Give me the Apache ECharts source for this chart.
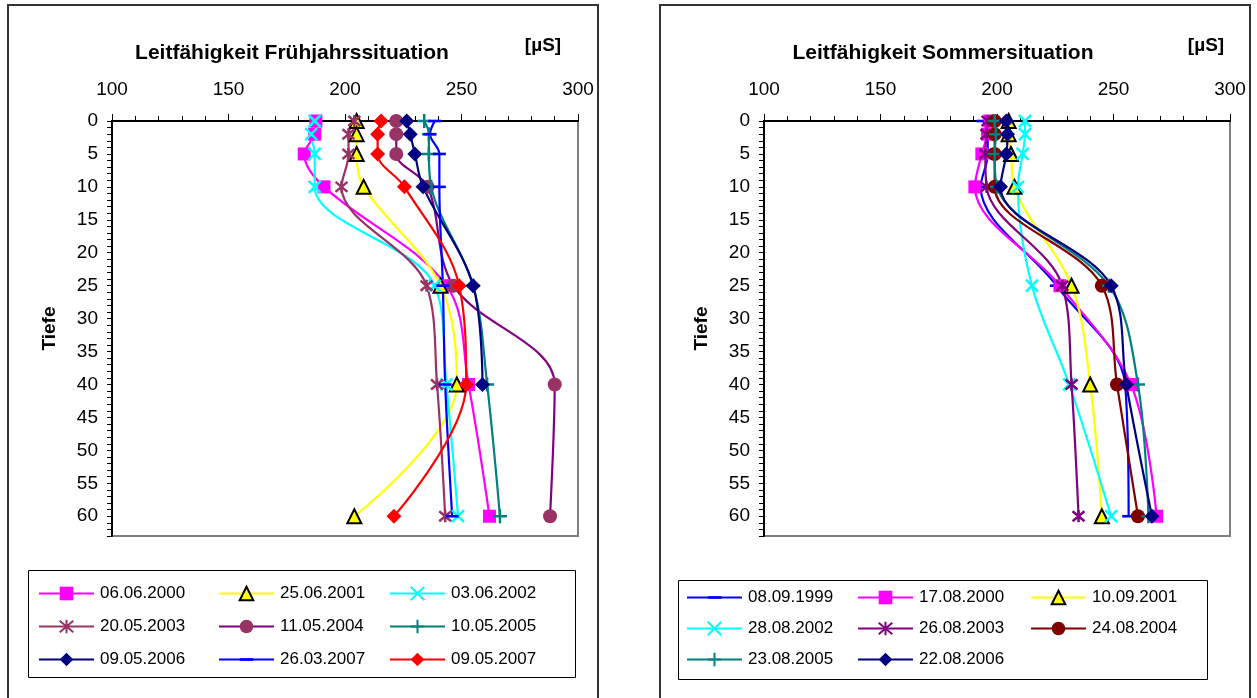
<!DOCTYPE html>
<html>
<head>
<meta charset="utf-8">
<script src="https://cdn.jsdelivr.net/npm/echarts@6/dist/echarts.min.js"></script>
<style>
html,body{margin:0;padding:0;background:#fff;}
#c{width:1257px;height:698px;}
</style>
</head>
<body>
<div id="c"></div>
<script>
// ---- data ----
const depths = [0, 2, 5, 10, 25, 40, 60];
const xTicks = [100, 150, 200, 250, 300];
const yTickLabels = [0, 5, 10, 15, 20, 25, 30, 35, 40, 45, 50, 55, 60];

// Frühjahr (left)
const springNames = ['06.06.2000','25.06.2001','03.06.2002','20.05.2003','11.05.2004','10.05.2005','09.05.2006','26.03.2007','09.05.2007'];
const sp2000 = [187.5, 187, 182.5, 191, 243.5, 253, 262];
const sp2001 = [205, 205, 205, 208, 241, 248, 204];
const sp2002 = [187, 185.5, 187, 187, 238.5, 243.5, 248.5];
const sp2003 = [204, 201.5, 201.5, 198.5, 235, 239.5, 243];
const sp2004 = [222, 222, 222, 235.5, 246.5, 290, 288];
const sp2005 = [234, 236, 236, 237, 255, 261, 266.5];
const sp2006 = [226.5, 228, 230, 233.5, 255, 259, null];
const sp2007a = [238.5, 236.5, 240.5, 240.5, 242, 243, 246];
const sp2007b = [215.5, 214, 214, 225.5, 249, 252, 221];

// Sommer (right)
const summerNames = ['08.09.1999','17.08.2000','10.09.2001','28.08.2002','26.08.2003','24.08.2004','23.08.2005','22.08.2006'];
const su1999 = [194, 196, 196, 193, 225.5, 255, 256.5];
const su2000 = [197, 196, 193.5, 190.5, 227, 257.5, 268.5];
const su2001 = [205, 205, 206, 207.5, 232, 240, 245];
const su2002 = [212, 212, 211, 209, 215, 231, 249];
const su2003 = [196, 195.5, 195, 195.5, 228, 232, 235];
const su2004 = [199, 199, 199, 199, 245, 251.5, 260.5];
const su2005 = [199, 199.5, 199, 200, 248, 260.5, 265];
const su2006 = [204, 204.5, 204, 201.5, 249, 255.5, 266.5];

// ---- helpers ----
const FONT = 'Liberation Sans, Arial, sans-serif';
const P_X = 'path://M0,0L10,10M10,0L0,10';
const P_AST = 'path://M0,0L10,10M10,0L0,10M5,-1L5,11';
const P_PLUS = 'path://M0,5L10,5M5,0L5,10';
const P_DASH = 'path://M0,0L0,0M0,4L10,4L10,6L0,6ZM10,10L10,10';

function pts(vals){
  const out = [];
  vals.forEach((v,i)=>{ if(v!==null && v!==undefined) out.push([v, depths[i]]); });
  return out;
}
const markers = {
  square: {symbol:'rect', symbolSize:13},
  tri: {symbol:'triangle', symbolSize:14},
  x: {symbol:P_X, symbolSize:12},
  ast: {symbol:P_AST, symbolSize:12},
  circle: {symbol:'circle', symbolSize:14},
  plus: {symbol:P_PLUS, symbolSize:14},
  diamond: {symbol:'diamond', symbolSize:15},
  dash: {symbol:P_DASH, symbolSize:13}
};
function ser(idx, name, vals, lineColor, mk, markColor, border){
  const m = markers[mk];
  const stroked = (mk==='x'||mk==='ast'||mk==='plus');
  return {
    type:'line', name, xAxisIndex:idx, yAxisIndex:idx,
    data: pts(vals), smooth:0.35, symbol:m.symbol, symbolSize:m.symbolSize,
    showAllSymbol:true, z:3,
    lineStyle:{color:lineColor, width:2.2},
    itemStyle:{color:markColor, borderColor: border || markColor, borderWidth: stroked?2.5:(border?2:0), opacity:1},
    emphasis:{disabled:true}, animation:false
  };
}
function xAx(idx){
  return {
    type:'value', gridIndex:idx, position:'top', min:100, max:300, interval:50,
    axisLine:{show:true, lineStyle:{color:'#000', width:2}},
    axisTick:{show:true, length:7, lineStyle:{color:'#000', width:1}},
    minorTick:{show:true, splitNumber:5, length:5, lineStyle:{color:'#000', width:1}},
    splitLine:{show:false},
    axisLabel:{fontFamily:FONT, fontSize:19, color:'#000', margin:22}
  };
}
function yAx(idx){
  return {
    type:'value', gridIndex:idx, inverse:true, min:0, max:63, interval:1,
    name:'Tiefe', nameLocation:'middle', nameGap:53, nameRotate:90,
    nameTextStyle:{fontFamily:FONT, fontSize:19, fontWeight:'bold', color:'#000'},
    axisLine:{show:true, lineStyle:{color:'#000', width:2}},
    axisTick:{show:true, length:5, lineStyle:{color:'#000', width:1}},
    splitLine:{show:false},
    axisLabel:{fontFamily:FONT, fontSize:19, color:'#000', margin:14,
      formatter:(v)=> yTickLabels.indexOf(v)>=0 ? String(v) : ''}
  };
}
function legendCol(names, left, top, gap){
  return {
    data:names, orient:'vertical', left, top, padding:0, itemGap:gap,
    itemWidth:55, itemHeight:17, selectedMode:false,
    textStyle:{fontFamily:FONT, fontSize:17, color:'#000', padding:[0,0,0,1]}
  };
}

const series = [
  ser(0, springNames[0], sp2000, '#FF00FF', 'square', '#FF00FF'),
  ser(0, springNames[1], sp2001, '#FFFF00', 'tri', '#FFFF00', '#000'),
  ser(0, springNames[2], sp2002, '#00FFFF', 'x', '#00FFFF'),
  ser(0, springNames[3], sp2003, '#993366', 'ast', '#993366'),
  ser(0, springNames[4], sp2004, '#800080', 'circle', '#993366'),
  ser(0, springNames[5], sp2005, '#008080', 'plus', '#008080'),
  ser(0, springNames[6], sp2006, '#000080', 'diamond', '#000080'),
  ser(0, springNames[7], sp2007a, '#0000FF', 'dash', '#0000FF'),
  ser(0, springNames[8], sp2007b, '#FF0000', 'diamond', '#FF0000'),
  ser(1, summerNames[0], su1999, '#0000FF', 'dash', '#0000FF'),
  ser(1, summerNames[1], su2000, '#FF00FF', 'square', '#FF00FF'),
  ser(1, summerNames[2], su2001, '#FFFF00', 'tri', '#FFFF00', '#000'),
  ser(1, summerNames[3], su2002, '#00FFFF', 'x', '#00FFFF'),
  ser(1, summerNames[4], su2003, '#800080', 'ast', '#800080'),
  ser(1, summerNames[5], su2004, '#800000', 'circle', '#800000'),
  ser(1, summerNames[6], su2005, '#008080', 'plus', '#008080'),
  ser(1, summerNames[7], su2006, '#000080', 'diamond', '#000080')
];

const chart = echarts.init(document.getElementById('c'), null, {renderer:'canvas'});
chart.setOption({
  backgroundColor:'#fff',
  animation:false,
  grid:[
    {left:112, top:121, width:466, height:415, show:true, borderColor:'#808080', borderWidth:2, backgroundColor:'#fff'},
    {left:764, top:121, width:466, height:415, show:true, borderColor:'#808080', borderWidth:2, backgroundColor:'#fff'}
  ],
  xAxis:[xAx(0), xAx(1)],
  yAxis:[yAx(0), yAx(1)],
  legend:[
    legendCol([springNames[0],springNames[3],springNames[6]], 38, 585, 16),
    legendCol([springNames[1],springNames[4],springNames[7]], 218, 585, 16),
    legendCol([springNames[2],springNames[5],springNames[8]], 389, 585, 16),
    legendCol([summerNames[0],summerNames[3],summerNames[6]], 686, 589, 14),
    legendCol([summerNames[1],summerNames[4],summerNames[7]], 857, 589, 14),
    legendCol([summerNames[2],summerNames[5]], 1030, 589, 14)
  ],
  graphic:[
    {type:'rect', shape:{x:8, y:5, width:590, height:700}, style:{fill:null, stroke:'#333', lineWidth:2}, z:-1},
    {type:'rect', shape:{x:660, y:5, width:590, height:700}, style:{fill:null, stroke:'#333', lineWidth:2}, z:-1},
    {type:'rect', shape:{x:28.5, y:570.5, width:547, height:107}, style:{fill:null, stroke:'#000', lineWidth:1}},
    {type:'rect', shape:{x:678.5, y:580.5, width:529, height:99}, style:{fill:null, stroke:'#000', lineWidth:1}},
    {type:'text', style:{x:292, y:53, text:'Leitfähigkeit Frühjahrssituation', align:'center', verticalAlign:'middle', font:'bold 21px '+FONT, fill:'#000'}},
    {type:'text', style:{x:543, y:46, text:'[µS]', align:'center', verticalAlign:'middle', font:'bold 19px '+FONT, fill:'#000'}},
    {type:'text', style:{x:943, y:53, text:'Leitfähigkeit Sommersituation', align:'center', verticalAlign:'middle', font:'bold 21px '+FONT, fill:'#000'}},
    {type:'text', style:{x:1206, y:46, text:'[µS]', align:'center', verticalAlign:'middle', font:'bold 19px '+FONT, fill:'#000'}}
  ],
  series
});
</script>
</body>
</html>
